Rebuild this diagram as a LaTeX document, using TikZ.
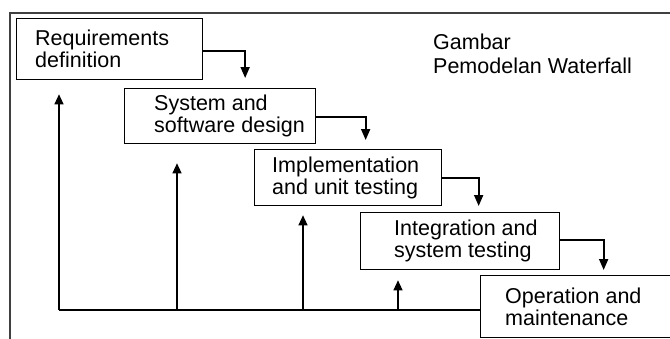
\documentclass[tikz,border=0pt]{standalone}
\usepackage{fontspec}
\setmainfont{Liberation Sans}
\usetikzlibrary{arrows.meta,calc}

\begin{document}
\begin{tikzpicture}[
    x=1pt, y=-1pt,
    stage/.style={
      draw,
      line width=1.3pt,
      anchor=north west,
      inner sep=0pt
    },
    caption/.style={
      anchor=west,
      inner sep=0pt,
      align=left,
      font=\fontsize{21.5}{22}\selectfont
    },
    flow/.style={
      line width=1.8pt,
      -{Triangle[width=9pt,length=11pt]}
    },
    back/.style={
      line width=1.2pt,
      -{Triangle[width=9pt,length=10pt]}
    }
  ]
    \useasboundingbox (0,0) rectangle (670,338);
    \clip (0,0) rectangle (670,338);
    \draw[line width=1.6pt, black!75] (10,13) rectangle (700,400);

    \node[stage, minimum width=186pt, minimum height=61pt] (req) at (16,18) {};
    \node[stage, minimum width=191pt, minimum height=55pt] (sys) at (124,88) {};
    \node[stage, minimum width=187pt, minimum height=56pt] (imp) at (254,149) {};
    \node[stage, minimum width=199pt, minimum height=57pt] (int) at (360,212) {};
    \node[stage, minimum width=210pt, minimum height=62pt] (ops) at (480,275) {};

    \node[caption] (reqtext) at ([xshift=19pt]req.west) {Requirements\\definition};
    \node[caption] (systext) at ([xshift=30pt]sys.west) {System and\\software design};
    \node[caption] (imptext) at ([xshift=18pt]imp.west) {Implementation\\and unit testing};
    \node[caption] (inttext) at ([xshift=34pt]int.west) {Integration and\\system testing};
    \node[caption] (opstext) at ([xshift=25pt]ops.west) {Operation and\\maintenance};

    \node[anchor=north west, inner sep=0pt, align=left,
      font=\fontsize{21.5}{24}\selectfont] (title) at (433,34) {Gambar\\Pemodelan Waterfall};

    % down the waterfall
    \draw[flow, shorten >=10pt] ([yshift=-2pt]req.east) -| ([xshift=25pt]sys.north);
    \draw[flow, shorten >=9pt] ([yshift=-1pt]sys.east) -| ([xshift=17.5pt]imp.north);
    \draw[flow, shorten >=6pt] (imp.east) -| ([xshift=18.5pt]int.north);
    \draw[flow, shorten >=5pt] ([yshift=1pt]int.east) -| ([xshift=18pt]ops.north);

    % feedback
    \coordinate (fb1) at (59,310);
    \coordinate (fb2) at (177,310);
    \coordinate (fb3) at (303,310);
    \coordinate (fb4) at (398,310);
    \draw[line width=1.2pt] (ops.west |- fb1) -- (fb1);
    \draw[back, shorten >=14pt] (fb1) -- (fb1 |- req.south);
    \draw[back, shorten >=19pt] (fb2) -- (fb2 |- sys.south);
    \draw[back, shorten >=9pt] (fb3) -- (fb3 |- imp.south);
    \draw[back, shorten >=10pt] (fb4) -- (fb4 |- int.south);
  \end{tikzpicture}
\end{document}
